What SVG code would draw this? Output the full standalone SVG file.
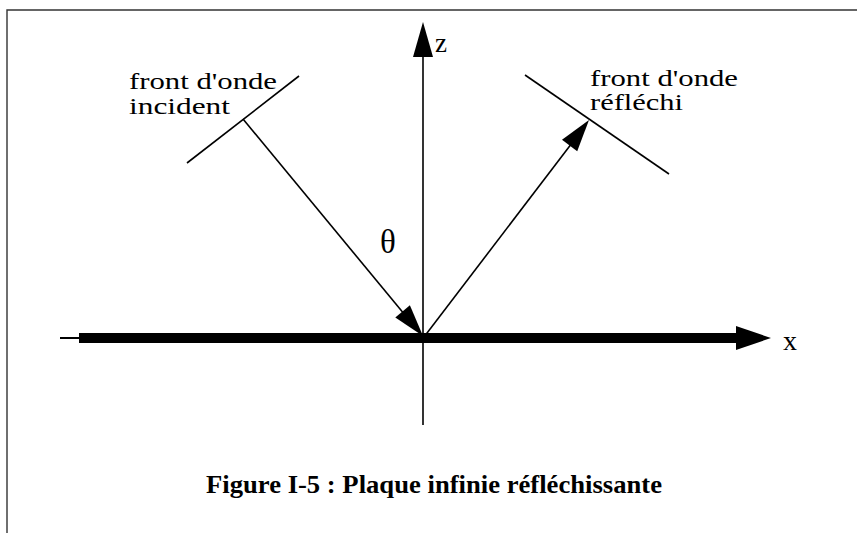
<svg xmlns="http://www.w3.org/2000/svg" width="857" height="533" viewBox="0 0 857 533">
<style>
.ln{stroke:#000;stroke-width:1.6;fill:none;stroke-linecap:butt}
.ah{fill:#000;stroke:none}
.lbl{font-family:"Liberation Serif","Times New Roman",serif;fill:#000}
.frame{stroke:#333;stroke-width:1.4;fill:none}
</style>
<rect width="857" height="533" fill="#fff"/>
<g id="frame">
<polyline class="frame" points="7,533 7,10 857,10"/>
</g>
<g id="connectors">
<g id="x-axis">
<line x1="60" y1="338" x2="80" y2="338" stroke="#000" stroke-width="2"/>
<rect x="79" y="333" width="660" height="10" fill="#000"/>
<polygon class="ah" points="736,326 771,338 736,350"/>
</g>
<g id="z-axis">
<line class="ln" x1="423" y1="50" x2="423" y2="425"/>
<polygon class="ah" points="423,22 413,57 433,57"/>
</g>
<g id="incident-ray">
<line class="ln" x1="243" y1="119" x2="405" y2="315"/>
<polygon class="ah" points="423,336 409.9,305.3 395.3,317.5"/>
</g>
<g id="reflected-ray">
<line class="ln" x1="424" y1="337" x2="572" y2="143"/>
<polygon class="ah" points="589,120 562,139.8 577.2,151.2"/>
</g>
</g>
<g id="incident-front">
<line class="ln" x1="187" y1="163" x2="299" y2="76"/>
<text class="lbl" font-size="24" x="129" y="89" textLength="148" lengthAdjust="spacingAndGlyphs">front d'onde</text>
<text class="lbl" font-size="24" x="129" y="114" textLength="101" lengthAdjust="spacingAndGlyphs">incident</text>
</g>
<g id="reflected-front">
<line class="ln" x1="525" y1="75" x2="669" y2="174"/>
<text class="lbl" font-size="24" x="590" y="86" textLength="148" lengthAdjust="spacingAndGlyphs">front d'onde</text>
<text class="lbl" font-size="24" x="590" y="110" textLength="93" lengthAdjust="spacingAndGlyphs">réfléchi</text>
</g>
<g id="labels">
<text class="lbl" font-size="27" x="435" y="52">z</text>
<text class="lbl" font-size="28" x="783" y="350">x</text>
<text class="lbl" font-size="33" x="380" y="253">θ</text>
</g>
<g id="caption">
<text class="lbl" font-size="25" font-weight="bold" x="206" y="493" textLength="456" lengthAdjust="spacingAndGlyphs">Figure I-5 : Plaque infinie réfléchissante</text>
</g>
</svg>
